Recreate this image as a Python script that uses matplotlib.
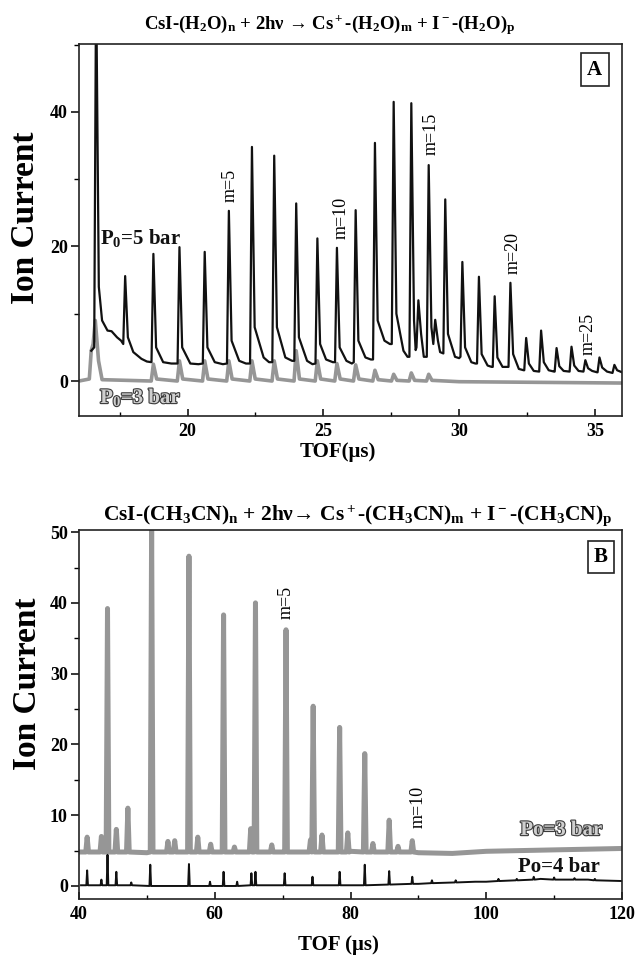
import matplotlib
matplotlib.use('Agg')
import matplotlib.pyplot as plt
import matplotlib.patheffects as pe
from matplotlib.ticker import MultipleLocator

plt.rcParams['font.family'] = ['Liberation Serif', 'DejaVu Serif']
plt.rcParams['font.weight'] = 'bold'
plt.rcParams['mathtext.fontset'] = 'custom'
plt.rcParams['mathtext.rm'] = 'Liberation Serif:bold'
plt.rcParams['mathtext.it'] = 'Liberation Serif:bold'
plt.rcParams['mathtext.bf'] = 'Liberation Serif:bold'

# ---------------- Panel A data (TOF in us, ion current) ----------------
a5_pos = [16.63, 17.70, 18.74, 19.70, 20.63, 21.52, 22.37, 23.19, 24.00, 24.78,
          25.50, 26.19, 26.90, 27.59, 28.24, 28.50, 28.88, 29.12, 29.49, 30.12,
          30.73, 31.31, 31.89, 32.47, 33.02, 33.59, 34.14, 34.65, 35.17, 35.72]
a5_height = [60, 15.6, 18.9, 19.9, 19.2, 25.3, 34.8, 33.5, 26.4, 21.2,
             19.8, 25.4, 35.4, 41.5, 41.3, 12.0, 32.1, 9.1, 27.0, 17.7,
             15.5, 12.6, 14.6, 6.4, 7.5, 4.9, 5.1, 3.1, 3.5, 2.4]
a5_foot = [5, 5.5, 2.8, 2.6, 2.6, 2.6, 2.6, 2.8, 3.0, 2.6,
           2.8, 2.8, 3.2, 5.5, 3.6, 5.0, 3.6, 5.5, 4.1, 3.6,
           2.6, 2.1, 2.1, 1.6, 1.4, 1.4, 1.4, 1.4, 1.3, 1.2]
a5_tail = [14, 6.5, 5, 5, 5, 6, 8, 8, 6.5, 5.5,
           5, 6, 9, 10, 9, 7, 8, 6, 7, 5,
           4, 3.5, 4, 2.6, 2.8, 2.2, 2.3, 1.9, 2.0, 1.6]
a5_valley_x = [16.45, 16.85, 17.05, 17.2, 17.4, 17.55, 18.0, 18.3, 18.5, 19.1, 19.4,
               20.1, 20.4, 21.0, 21.3, 21.9, 22.15, 22.8, 23.0, 23.6, 23.85,
               24.4, 24.6, 25.1, 25.35, 25.85, 26.05, 26.55, 26.75, 27.25, 27.45,
               27.95, 28.1, 28.4, 28.7, 29.3, 29.85, 30.0, 30.45, 30.6, 31.05, 31.2,
               31.6, 31.8, 32.2, 32.38, 32.75, 32.93, 33.3, 33.5, 33.85, 34.05,
               34.4, 34.57, 34.9, 35.08, 35.45, 35.65, 36.0]
a5_valley_y = [4.5, 9, 7.5, 7.4, 6.5, 6.0, 4.3, 3.3, 2.9, 2.8, 2.6,
               2.6, 2.5, 2.8, 2.5, 3.0, 2.6, 3.5, 2.8, 3.5, 3.0,
               3.0, 2.5, 3.2, 2.8, 3.0, 2.6, 3.5, 3.2, 6.0, 5.5,
               4.5, 3.6, 4.6, 3.6, 4.3, 3.6, 3.4, 2.8, 2.6, 2.3, 2.1,
               2.1, 2.1, 1.8, 1.6, 1.5, 1.4, 1.6, 1.4, 1.5, 1.4,
               1.5, 1.4, 1.5, 1.3, 1.4, 1.2, 1.3]

a3_pos = [16.60, 18.74, 19.70, 20.63, 21.52, 22.37, 23.19, 24.00, 24.78,
          25.50, 26.19, 26.90, 27.59, 28.24, 28.88]
a3_height = [9.0, 2.5, 3.0, 3.0, 3.0, 3.0, 3.0, 4.5, 3.0, 2.6, 2.4, 1.6, 1.0, 1.2, 1.0]
a3_foot = [5.5, 0, 0, 0, 0, 0, 0, 0, 0, 0, 0, 0, 0, 0, 0]
a3_tail = [3.0, 0.3, 0.3, 0.3, 0.3, 0.3, 0.3, 0.3, 0.3, 0.3, 0.3, 0.2, 0.1, 0.1, 0.1]
a3_valley_x = [16.0, 16.38, 16.45, 16.85, 30.0, 36.0]
a3_valley_y = [0.0, 0.3, 4.5, 0.2, -0.1, -0.3]

# ---------------- Panel B data ----------------
b3_pos = [41.2, 43.3, 44.2, 45.5, 47.2, 50.7, 53.1, 54.1, 56.2, 57.5, 59.4, 61.3,
          62.9, 65.3, 66.0, 68.4, 70.5, 74.1, 74.5, 75.8, 78.4, 79.6, 82.1, 83.3,
          85.7, 87.0, 89.1]
b3_height = [6.9, 7.0, 39.2, 8.0, 11.0, 51, 6.3, 6.4, 46.6, 6.9, 5.9, 38.3,
             5.5, 8.1, 40.0, 5.8, 36.2, 6.5, 25.4, 7.2, 22.4, 7.5, 18.7, 6.0,
             9.3, 5.6, 6.4]
b3_foot = [4.8] * 27
b3_valley_x = [40.0, 50.0, 60.0, 70.0, 80.0, 90.0, 95.0, 100.0, 110.0, 120.0]
b3_valley_y = [4.8, 4.7, 4.8, 4.8, 4.9, 4.7, 4.6, 4.9, 5.1, 5.3]

b4_pos = [41.2, 43.3, 44.2, 45.5, 47.7, 50.5, 56.2, 59.3, 61.3, 63.3, 65.4, 66.0,
          70.3, 74.4, 78.4, 82.1, 85.7, 89.1, 92.0, 95.5, 98.5, 101.8, 104.5,
          107.0, 110.0, 113.0, 116.0]
b4_height = [2.2, 0.9, 4.4, 2.0, 0.5, 3.0, 3.1, 0.6, 2.0, 0.6, 1.8, 2.0,
             1.8, 1.3, 2.0, 3.0, 2.1, 1.3, 0.8, 0.8, 0.6, 1.0, 1.0,
             1.3, 1.2, 1.1, 1.0]
b4_foot = [0.1, 0.1, 0.1, 0.1, 0.1, 0.0, 0.0, 0.0, 0.0, 0.0, 0.1, 0.1,
           0.1, 0.1, 0.1, 0.1, 0.2, 0.3, 0.4, 0.5, 0.6, 0.7, 0.8,
           0.9, 0.9, 0.9, 0.8]
b4_valley_x = [40.3, 60.0, 80.0, 90.0, 100.0, 108.0, 115.0, 120.0]
b4_valley_y = [0.1, 0.0, 0.1, 0.3, 0.6, 1.0, 0.9, 0.7]

a_mlabels = ['m=5', 'm=10', 'm=15', 'm=20', 'm=25']
a_mlab_x = [21.56, 25.64, 28.97, 32.0, 34.75]
a_mlab_y = [29.1, 24.3, 36.7, 19.1, 7.0]
b_mlabels = ['m=5', 'm=10']
b_mlab_x = [70.5, 90.0]
b_mlab_y = [40.0, 11.2]


def build_trace(pos, height, foot, tail, hw_l, hw_r, vx, vy):
    pts = list(zip(vx, vy))
    for p, h, f, t in zip(pos, height, foot, tail):
        pts += [(p - hw_l, f), (p, h), (p + hw_r, t)]
    pts.sort(key=lambda q: q[0])
    return [q[0] for q in pts], [q[1] for q in pts]


fig = plt.figure(figsize=(6.38, 9.56), dpi=100)
W, H = 638.0, 956.0
axA = fig.add_axes([79 / W, 1 - 416 / H, 543 / W, 372 / H])
axB = fig.add_axes([79 / W, 1 - 899 / H, 543 / W, 369 / H])

gray = '#969696'
outline = [pe.withStroke(linewidth=1.6, foreground='#3a3a3a')]

# Panel A traces
x, y = build_trace(a3_pos, a3_height, a3_foot, a3_tail, 0.08, 0.12, a3_valley_x, a3_valley_y)
axA.plot(x, y, color=gray, lw=2.6, solid_joinstyle='round')
x, y = build_trace(a5_pos, a5_height, a5_foot, a5_tail, 0.07, 0.1, a5_valley_x, a5_valley_y)
axA.plot(x, y, color='#111111', lw=1.6)

# Panel B traces
x, y = build_trace(b3_pos, b3_height, b3_foot, b3_foot, 0.2, 0.2, b3_valley_x, b3_valley_y)
axB.plot(x, y, color=gray, lw=3.6)
x, y = build_trace(b4_pos, b4_height, b4_foot, b4_foot, 0.12, 0.12, b4_valley_x, b4_valley_y)
axB.plot(x, y, color='#111111', lw=1.4)

axA.set_xlim(16, 36)
axA.set_ylim(-5.2, 50.1)
axB.set_xlim(40, 120)
axB.set_ylim(-1.84, 50.3)

axA.xaxis.set_major_locator(MultipleLocator(5))
axA.xaxis.set_minor_locator(MultipleLocator(2.5))
axA.yaxis.set_major_locator(MultipleLocator(20))
axA.yaxis.set_minor_locator(MultipleLocator(10))
axB.xaxis.set_major_locator(MultipleLocator(20))
axB.xaxis.set_minor_locator(MultipleLocator(10))
axB.yaxis.set_major_locator(MultipleLocator(10))
axB.yaxis.set_minor_locator(MultipleLocator(5))

for ax in (axA, axB):
    for s in ax.spines.values():
        s.set_linewidth(1.2)
        s.set_color('#222222')
    ax.tick_params(axis='y', which='major', direction='out', length=6, width=1.1,
                   labelsize=13, pad=2)
    ax.tick_params(axis='y', which='minor', direction='out', length=3.5, width=1.0)
    ax.tick_params(axis='x', which='major', direction='in', length=5, width=1.1,
                   labelsize=13, pad=5)
    ax.tick_params(axis='x', which='minor', direction='in', length=3, width=1.0)
    for lab in ax.get_xticklabels() + ax.get_yticklabels():
        lab.set_fontweight('bold')

# Titles
fig.text(0.517, 0.974,
         'CsI-(H$_2$O)$_n$ + 2hν → Cs$^+$-(H$_2$O)$_m$ + I$^-$-(H$_2$O)$_p$',
         ha='center', va='center', fontsize=13.5, fontweight='bold')
fig.text(0.561, 0.461,
         'CsI-(CH$_3$CN)$_n$ + 2hν→ Cs$^+$-(CH$_3$CN)$_m$ + I$^-$-(CH$_3$CN)$_p$',
         ha='center', va='center', fontsize=15.5, fontweight='bold')

# Axis labels
fig.text(25 / W, 1 - 218 / H, 'Ion Current', rotation=90, ha='center', va='center',
         fontsize=24, fontweight='bold')
fig.text(28 / W, 1 - 684 / H, 'Ion Current', rotation=90, ha='center', va='center',
         fontsize=24, fontweight='bold')
fig.text(338 / W, 1 - 452 / H, 'TOF(μs)', ha='center', va='center', fontsize=15,
         fontweight='bold')
fig.text(338 / W, 1 - 945 / H, 'TOF (μs)', ha='center', va='center', fontsize=15,
         fontweight='bold')

# Panel letters
box = dict(boxstyle='square,pad=0.3', fc='white', ec='#222222', lw=1.2)
axA.text(0.950, 0.931, 'A', transform=axA.transAxes, ha='center', va='center',
         fontsize=15, fontweight='bold', bbox=box)
axB.text(0.961, 0.927, 'B', transform=axB.transAxes, ha='center', va='center',
         fontsize=15, fontweight='bold', bbox=box)

# Pressure labels
axA.text(16.78, 21.2, 'P$_0$=5 bar', ha='left', va='center', fontsize=15,
         fontweight='bold', color='#111111')
axA.text(16.78, -2.4, 'P$_0$=3 bar', ha='left', va='center', fontsize=15,
         fontweight='bold', color='#cfcfcf', path_effects=outline)
axB.text(117.1, 7.9, 'Po=3 bar', ha='right', va='center', fontsize=15,
         fontweight='bold', color='#cfcfcf', path_effects=outline)
axB.text(116.8, 2.7, 'Po=4 bar', ha='right', va='center', fontsize=15,
         fontweight='bold', color='#111111')

# Cluster size labels
for t, xx, yy in zip(a_mlabels, a_mlab_x, a_mlab_y):
    axA.text(xx, yy, t, rotation=90, ha='center', va='center', fontsize=13,
             fontweight='normal')
for t, xx, yy in zip(b_mlabels, b_mlab_x, b_mlab_y):
    axB.text(xx, yy, t, rotation=90, ha='center', va='center', fontsize=13,
             fontweight='normal')

fig.savefig('out.png', dpi=100)
